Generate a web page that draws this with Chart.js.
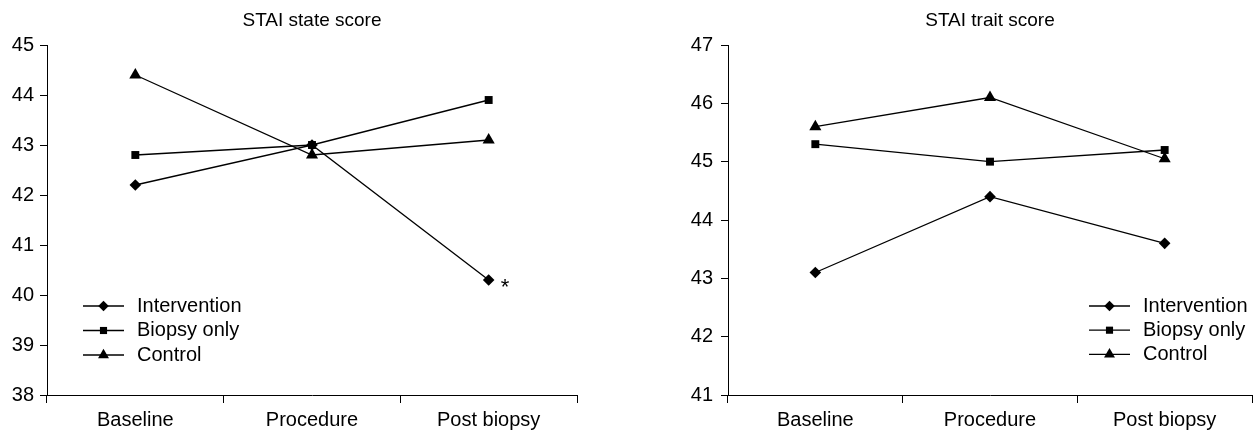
<!DOCTYPE html>
<html>
<head>
<meta charset="utf-8">
<title>STAI state and trait scores</title>
<script src="https://cdn.jsdelivr.net/npm/chart.js"></script>
<style>
  html, body { margin: 0; padding: 0; background: #fff; }
  #wrap { position: relative; width: 1259px; height: 432px; }
  .panel { position: absolute; top: 0; height: 432px; }
  #statePanel { left: 0; width: 640px; }
  #traitPanel { left: 640px; width: 619px; }
</style>
</head>
<body>
<div id="wrap">
  <div class="panel" id="statePanel"><canvas id="stateChart"></canvas></div>
  <div class="panel" id="traitPanel"><canvas id="traitChart"></canvas></div>
</div>
<script>
const timepoints = ['Baseline', 'Procedure', 'Post biopsy'];
const groupNames = ['Intervention', 'Biopsy only', 'Control'];

// STAI state score
const stateIntervention = [42.2, 43.0, 40.3];
const stateBiopsyOnly = [42.8, 43.0, 43.9];
const stateControl = [44.4, 42.8, 43.1];
const stateYTicks = [38, 39, 40, 41, 42, 43, 44, 45];
const stateSignificance = ['', '', '*']; // intervention group

// STAI trait score
const traitIntervention = [43.1, 44.4, 43.6];
const traitBiopsyOnly = [45.3, 45.0, 45.2];
const traitControl = [45.6, 46.1, 45.05];
const traitYTicks = [41, 42, 43, 44, 45, 46, 47];

const markerStyles = ['rectRot', 'rect', 'triangle'];
const markerRadius = [5.8, 5.6, 7];
const FONT = '"Liberation Sans", Arial, sans-serif';

function drawMarker(ctx, style, x, y, r) {
    ctx.beginPath();
    if (style === 'rectRot') {
        ctx.moveTo(x, y - r);
        ctx.lineTo(x + r, y);
        ctx.lineTo(x, y + r);
        ctx.lineTo(x - r, y);
    } else if (style === 'rect') {
        const h = r * Math.SQRT1_2;
        ctx.rect(x - h, y - h, 2 * h, 2 * h);
    } else {
        ctx.moveTo(x, y - r);
        ctx.lineTo(x + r * 0.866, y + r / 2);
        ctx.lineTo(x - r * 0.866, y + r / 2);
    }
    ctx.closePath();
    ctx.fill();
}

// title, line+marker legend and significance star
const decorPlugin = {
    id: 'decor',
    afterDatasetsDraw(chart, args, opts) {
        const ctx = chart.ctx;
        const area = chart.chartArea;
        ctx.save();
        ctx.fillStyle = '#000';
        ctx.strokeStyle = '#000';

        ctx.font = '19px ' + FONT;
        ctx.textAlign = 'center';
        ctx.textBaseline = 'middle';
        ctx.fillText(opts.title, (area.left + area.right) / 2, opts.titleY);

        // legend
        const lg = opts.legend;
        ctx.font = '20px ' + FONT;
        ctx.textAlign = 'left';
        chart.data.datasets.forEach((ds, i) => {
            const y = lg.y + i * lg.rowGap;
            ctx.lineWidth = 1.3;
            ctx.beginPath();
            ctx.moveTo(lg.x, y);
            ctx.lineTo(lg.x + lg.lineLength, y);
            ctx.stroke();
            drawMarker(ctx, ds.pointStyle, lg.x + lg.lineLength / 2, y, ds.pointRadius * 0.9);
            ctx.fillText(ds.label, lg.x + lg.lineLength + lg.textGap, y);
        });

        // star next to significant points
        if (opts.stars) {
            const xs = chart.scales.x, ys = chart.scales.y;
            const data = chart.data.datasets[opts.stars.dataset].data;
            ctx.font = '22px ' + FONT;
            ctx.textAlign = 'left';
            ctx.textBaseline = 'alphabetic';
            opts.stars.labels.forEach((s, i) => {
                if (!s) return;
                ctx.fillText(s, xs.getPixelForValue(i) + 12, ys.getPixelForValue(data[i]) + 14);
            });
        }
        ctx.restore();
    }
};

function makeChart(canvasId, title, series, yTicks, layout) {
    const datasets = series.map((values, i) => ({
        label: groupNames[i],
        data: values,
        borderColor: '#000',
        borderWidth: 1.3,
        backgroundColor: '#000',
        pointStyle: markerStyles[i],
        pointRadius: markerRadius[i],
        pointHoverRadius: markerRadius[i],
        pointBackgroundColor: '#000',
        pointBorderWidth: 0,
        tension: 0,
        clip: false
    }));

    return new Chart(document.getElementById(canvasId), {
        type: 'line',
        data: { labels: timepoints, datasets },
        options: {
            responsive: true,
            maintainAspectRatio: false,
            animation: false,
            events: [],
            layout: { padding: layout.padding },
            plugins: {
                legend: { display: false },
                title: { display: false },
                tooltip: { enabled: false },
                decor: {
                    title,
                    titleY: 21,
                    legend: layout.legend,
                    stars: layout.stars
                }
            },
            scales: {
                x: {
                    type: 'category',
                    offset: true,
                    grid: {
                        offset: true,
                        drawOnChartArea: false,
                        drawTicks: true,
                        tickLength: 8,
                        color: '#000',
                        lineWidth: 1
                    },
                    border: { display: true, color: '#000', width: 1 },
                    ticks: {
                        color: '#000',
                        font: { family: FONT, size: 20 },
                        padding: 5,
                        maxRotation: 0,
                        autoSkip: false
                    },
                    afterFit(scale) { scale.height = layout.xHeight; }
                },
                y: {
                    min: yTicks[0],
                    max: yTicks[yTicks.length - 1],
                    grid: {
                        drawOnChartArea: false,
                        drawTicks: true,
                        tickLength: 7,
                        color: '#000',
                        lineWidth: 1
                    },
                    border: { display: true, color: '#000', width: 1 },
                    ticks: {
                        stepSize: 1,
                        color: '#000',
                        font: { family: FONT, size: 20 },
                        padding: layout.yPad
                    },
                    afterBuildTicks(scale) {
                        scale.ticks = yTicks.map(v => ({ value: v }));
                    },
                    afterFit(scale) { scale.width = layout.yWidth; }
                }
            }
        },
        plugins: [decorPlugin]
    });
}

makeChart('stateChart', 'STAI state score',
    [stateIntervention, stateBiopsyOnly, stateControl], stateYTicks, {
        padding: { left: 0, right: 63, top: 45, bottom: 0 },
        yWidth: 47,
        yPad: 6,
        xHeight: 37,
        legend: { x: 83, y: 306, rowGap: 24.5, lineLength: 41, textGap: 13 },
        stars: { dataset: 0, labels: stateSignificance }
    });

makeChart('traitChart', 'STAI trait score',
    [traitIntervention, traitBiopsyOnly, traitControl], traitYTicks, {
        padding: { left: 0, right: 2, top: 45, bottom: 0 },
        yWidth: 88,
        yPad: 8,
        xHeight: 37,
        legend: { x: 449, y: 306, rowGap: 24.2, lineLength: 41, textGap: 13 }
    });
</script>
</body>
</html>
